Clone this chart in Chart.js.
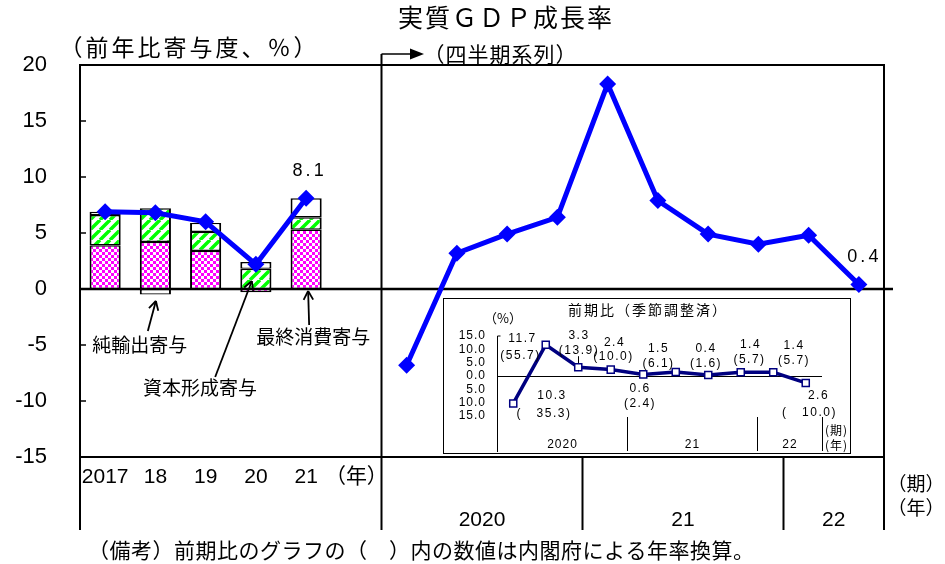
<!DOCTYPE html>
<html lang="ja">
<head>
<meta charset="utf-8">
<title>実質GDP成長率</title>
<script src="https://cdn.jsdelivr.net/npm/chart.js@4.4.1/dist/chart.umd.min.js"></script>
<style>
  html, body { margin: 0; padding: 0; background: #fff; }
  #wrap { position: relative; width: 945px; height: 564px; }
  #mainChart { position: absolute; left: 0; top: 0; }
  #insetChart { position: absolute; left: 443px; top: 298px; background: #fff; }
</style>
</head>
<body>
<div id="wrap">
  <canvas id="mainChart" width="945" height="564"></canvas>
  <canvas id="insetChart" width="408" height="156"></canvas>
</div>
<script>
// --- annual series (y/y, contributions) ---
const annualYears = ['2017', '18', '19', '20', '21'];
const annualGrowth = [6.9, 6.8, 6.0, 2.2, 8.1];
const consumptionContrib = [3.9, 4.2, 3.4, -0.3, 5.3];
const capitalContrib = [2.7, 3.0, 1.7, 1.8, 1.1];
const netExportContrib = [0.3, -0.5, 0.8, 0.6, 1.7];

// --- quarterly series (y/y) ---
const quarters = ['2020Q1', '2020Q2', '2020Q3', '2020Q4', '2021Q1', '2021Q2', '2021Q3', '2021Q4', '2022Q1', '2022Q2'];
const quarterlyGrowth = [-6.8, 3.2, 4.9, 6.4, 18.3, 7.9, 4.9, 4.0, 4.8, 0.4];
const quarterYears = ['2020', '21', '22'];
const quartersInYear = [4, 4, 2];

// --- inset: q/q seasonally adjusted, and annualised rate ---
const qoqGrowth = [-10.3, 11.7, 3.3, 2.4, 0.6, 1.5, 0.4, 1.4, 1.4, -2.6];
const qoqAnnualised = [-35.3, 55.7, 13.9, 10.0, 2.4, 6.1, 1.6, 5.7, 5.7, -10.0];

const yTicks = [20, 15, 10, 5, 0, -5, -10, -15];
const insetTicks = [15, 10, 5, 0, -5, -10, -15];

const BLACK = '#000';
const jp = "'Noto Sans CJK JP', sans-serif";
const num = "'Liberation Sans', Arial, 'Noto Sans CJK JP', sans-serif";

// one category axis: 5 years, a spare slot for "(年)", then the quarters
const categories = [...annualYears, '（年）', ...quarters];
const padAnnual = (arr) => [...arr, null, ...quarters.map(() => null)];
const lineData = [...annualGrowth, null, ...quarterlyGrowth];

function text(ctx, str, x, y, font, opts = {}) {
  const sp = opts.spacing || 0;
  ctx.save();
  ctx.font = font;
  ctx.fillStyle = opts.color || BLACK;
  ctx.textAlign = opts.align || 'center';
  ctx.textBaseline = 'middle';
  ctx.letterSpacing = sp + 'px';
  ctx.fillText(str, ctx.textAlign === 'center' ? x + sp / 2 : x, y);
  ctx.restore();
}

function line(ctx, x1, y1, x2, y2) {
  ctx.beginPath();
  ctx.moveTo(x1, y1);
  ctx.lineTo(x2, y2);
  ctx.stroke();
}

function arrow(ctx, x1, y1, x2, y2) {
  line(ctx, x1, y1, x2, y2);
  const ang = Math.atan2(y2 - y1, x2 - x1);
  const len = 10;
  [-0.5, 0.5].forEach((d) => {
    line(ctx, x2, y2, x2 - len * Math.cos(ang + d), y2 - len * Math.sin(ang + d));
  });
}

// fill patterns for the bars
function checkerPattern(ctx) {
  const c = document.createElement('canvas');
  c.width = 6; c.height = 6;
  const g = c.getContext('2d');
  g.fillStyle = '#fff'; g.fillRect(0, 0, 6, 6);
  g.fillStyle = '#ff00ff';
  g.fillRect(0, 0, 3, 3);
  g.fillRect(3, 3, 3, 3);
  return ctx.createPattern(c, 'repeat');
}

function hatchPattern(ctx) {
  const c = document.createElement('canvas');
  c.width = 10; c.height = 10;
  const g = c.getContext('2d');
  g.fillStyle = '#fff'; g.fillRect(0, 0, 10, 10);
  g.strokeStyle = '#00ff00';
  g.lineWidth = 3.5;
  g.beginPath();
  [-10, 0, 10].forEach((o) => { g.moveTo(o, 10); g.lineTo(o + 10, 0); });
  g.stroke();
  return ctx.createPattern(c, 'repeat');
}

// callouts for the bar components, in (category index, value) coordinates
const callouts = [
  { text: '純輸出寄与', at: [0.69, -5.0], tail: [0.85, -3.75], tip: [1.01, -1.07] },
  { text: '資本形成寄与', at: [1.89, -8.84], tail: [2.19, -7.86], tip: [2.92, 0.71] },
  { text: '最終消費寄与', at: [4.14, -4.29], tail: [4.06, -3.21], tip: [4.04, -0.18] },
];

const mainDecor = {
  id: 'mainDecor',
  beforeDatasetsDraw(chart) {
    const { ctx, chartArea: a, scales: { x, y } } = chart;
    const half = (x.getPixelForValue(1) - x.getPixelForValue(0)) / 2;
    const edge = (i) => x.getPixelForValue(i) - half;
    ctx.save();
    ctx.strokeStyle = BLACK;
    ctx.lineWidth = 2;
    ctx.strokeRect(a.left, a.top, a.right - a.left, a.bottom - a.top);
    const y0 = y.getPixelForValue(0);
    ctx.lineWidth = 2.5;
    line(ctx, a.left, y0, a.right + 9, y0);

    // inward tick marks on the left axis
    ctx.lineWidth = 1.5;
    y.ticks.forEach((t) => {
      const py = y.getPixelForValue(t.value);
      if (t.value !== 0 && py > a.top + 2 && py < a.bottom - 2) line(ctx, a.left, py, a.left + 6, py);
    });

    // annual | quarterly divider and bottom-axis year separators
    ctx.lineWidth = 2;
    line(ctx, edge(annualYears.length + 1), 54, edge(annualYears.length + 1), 530);
    let k = annualYears.length + 1;
    const seps = [edge(0), a.right];
    quartersInYear.forEach((n) => { k += n; seps.push(edge(k)); });
    seps.forEach((sx) => line(ctx, sx, a.bottom, sx, 530));
    ctx.restore();
  },
  afterDraw(chart) {
    const { ctx, chartArea: a, scales: { x, y } } = chart;
    const half = (x.getPixelForValue(1) - x.getPixelForValue(0)) / 2;
    const edge = (i) => x.getPixelForValue(i) - half;

    text(ctx, '実質ＧＤＰ成長率', 505, 17, `25px ${jp}`, { spacing: 2 });
    text(ctx, '（前年比寄与度、％）', 188, 47, `23px ${jp}`, { spacing: 3 });

    // "(四半期系列)" pointer
    const dx = edge(annualYears.length + 1);
    ctx.save();
    ctx.strokeStyle = BLACK;
    ctx.fillStyle = BLACK;
    ctx.lineWidth = 1.5;
    line(ctx, dx, 54, 413, 54);
    ctx.beginPath();
    ctx.moveTo(424, 54); ctx.lineTo(410, 48.5); ctx.lineTo(410, 59.5); ctx.closePath();
    ctx.fill();
    ctx.restore();
    text(ctx, '（四半期系列）', 500, 54, `21px ${jp}`, { spacing: 1 });

    // value labels on the line
    const lastIdx = lineData.length - 1;
    [[annualYears.length - 1, 2], [lastIdx, 4]].forEach(([i, off]) => {
      text(ctx, lineData[i].toFixed(1), x.getPixelForValue(i) + off, y.getPixelForValue(lineData[i]) - 27,
        `18px ${num}`, { spacing: 3 });
    });

    // quarterly year labels under the axis
    let k = annualYears.length + 1;
    quarterYears.forEach((yr, j) => {
      const cx = (edge(k) + edge(k + quartersInYear[j])) / 2;
      text(ctx, yr, cx, 520, `21px ${num}`);
      k += quartersInYear[j];
    });
    text(ctx, '（期）', 916, 484, `19px ${jp}`);
    text(ctx, '（年）', 916, 508, `19px ${jp}`);

    // callouts
    ctx.save();
    ctx.strokeStyle = BLACK;
    ctx.lineWidth = 1.8;
    callouts.forEach((c) => {
      arrow(ctx, x.getPixelForValue(c.tail[0]), y.getPixelForValue(c.tail[1]),
        x.getPixelForValue(c.tip[0]), y.getPixelForValue(c.tip[1]));
    });
    ctx.restore();
    callouts.forEach((c) => {
      text(ctx, c.text, x.getPixelForValue(c.at[0]), y.getPixelForValue(c.at[1]), `19px ${jp}`);
    });

    text(ctx, '（備考）前期比のグラフの（　）内の数値は内閣府による年率換算。', 88, 550, `21px ${jp}`,
      { align: 'left', spacing: 0.5 });
  },
};

const mainCtx = document.getElementById('mainChart').getContext('2d');
const barCommon = {
  borderColor: BLACK,
  borderWidth: { left: 2, right: 2, top: 1.4, bottom: 1.4 },
  borderSkipped: false,
  barPercentage: 0.62,
  categoryPercentage: 1.0,
  stack: 'components',
  order: 1,
};

new Chart(mainCtx, {
  type: 'bar',
  data: {
    labels: categories,
    datasets: [
      {
        type: 'line',
        label: '実質GDP成長率',
        data: lineData,
        borderColor: '#0000ff',
        borderWidth: 5,
        pointStyle: 'rectRot',
        pointRadius: 8.5,
        pointBackgroundColor: '#0000ff',
        pointBorderWidth: 0,
        spanGaps: false,
        stack: 'growth',
        order: 0,
      },
      { ...barCommon, label: '最終消費寄与', data: padAnnual(consumptionContrib), backgroundColor: checkerPattern(mainCtx) },
      { ...barCommon, label: '資本形成寄与', data: padAnnual(capitalContrib), backgroundColor: hatchPattern(mainCtx) },
      { ...barCommon, label: '純輸出寄与', data: padAnnual(netExportContrib), backgroundColor: '#fff' },
    ],
  },
  options: {
    responsive: false,
    devicePixelRatio: 1,
    animation: false,
    layout: { padding: { top: 65, right: 61, left: 0, bottom: 0 } },
    plugins: { legend: { display: false }, tooltip: { enabled: false } },
    scales: {
      x: {
        stacked: true,
        offset: true,
        grid: { display: false, drawTicks: false },
        border: { display: false },
        ticks: {
          autoSkip: false,
          maxRotation: 0,
          padding: 8,
          color: BLACK,
          font: { family: num, size: 21 },
          callback: (v, i) => (i <= annualYears.length ? categories[i] : ''),
        },
        afterFit: (s) => { s.height = 107; },
      },
      y: {
        stacked: true,
        min: Math.min(...yTicks),
        max: Math.max(...yTicks),
        ticks: {
          stepSize: yTicks[0] - yTicks[1],
          autoSkip: false,
          padding: 33,
          color: BLACK,
          font: { family: num, size: 22 },
        },
        grid: { display: false, drawTicks: false },
        border: { display: false },
        afterFit: (s) => { s.width = 80; },
      },
    },
  },
  plugins: [mainDecor],
});

// ---------------- inset chart ----------------
// label offsets from each marker: [dx1, dy1, dx2, dy2]
const insetLabelPos = [
  [38, -8, 30, 10], [-24, -6, -26, 11], [0, -32, 0, -17], [3, -27, 2, -13], [-4, 14, -4, 29],
  [-18, -23, -18, -8], [-3, -26, -3, -11], [9, -28, 8, -13], [20, -27, 20, -12], [12, 13, 3, 30],
];

const insetDecor = {
  id: 'insetDecor',
  beforeDraw(chart) {
    chart.ctx.letterSpacing = '1px';
  },
  beforeDatasetsDraw(chart) {
    const { ctx, chartArea: a, scales: { x, y } } = chart;
    const half = (x.getPixelForValue(1) - x.getPixelForValue(0)) / 2;
    const edge = (i) => x.getPixelForValue(i) - half;
    ctx.save();
    ctx.strokeStyle = BLACK;
    ctx.lineWidth = 1;
    const y0 = Math.round(y.getPixelForValue(0)) + 0.5;
    line(ctx, a.left, y0, a.right, y0);
    const lx = Math.round(a.left) + 0.5;
    line(ctx, lx, a.top, lx, 154);
    line(ctx, lx, a.top, lx + 3, a.top);
    let k = 0;
    quartersInYear.forEach((n) => {
      k += n;
      const sx = Math.round(edge(k)) + 0.5;
      line(ctx, sx, a.bottom + 1, sx, 153);
    });
    ctx.restore();
  },
  afterDraw(chart) {
    const { ctx, chartArea: a, scales: { x, y } } = chart;
    const half = (x.getPixelForValue(1) - x.getPixelForValue(0)) / 2;
    const edge = (i) => x.getPixelForValue(i) - half;
    ctx.save();
    ctx.letterSpacing = '0px';
    ctx.strokeStyle = BLACK;
    ctx.lineWidth = 1;
    ctx.strokeRect(0.5, 0.5, chart.width - 1, chart.height - 1);
    ctx.restore();

    text(ctx, '前期比（季節調整済）', 204, 12, `14px ${jp}`, { spacing: 2 });
    text(ctx, '（%）', 60, 20, `13px ${jp}`);

    const lf = `12px ${num}`;
    qoqGrowth.forEach((v, i) => {
      const px = x.getPixelForValue(i);
      const py = y.getPixelForValue(v);
      const [dx1, dy1, dx2, dy2] = insetLabelPos[i];
      const a2 = qoqAnnualised[i];
      const l1 = Math.abs(v).toFixed(1);
      const l2 = a2 < 0 ? `(   ${Math.abs(a2).toFixed(1)})` : `(${a2.toFixed(1)})`;
      text(ctx, l1, px + dx1, py + dy1, lf, { spacing: 1.5 });
      text(ctx, l2, px + dx2, py + dy2, lf, { spacing: 1.5 });
    });
    // leader from the Q3 label to its marker
    ctx.save();
    ctx.strokeStyle = BLACK;
    ctx.lineWidth = 1;
    const p2x = Math.round(x.getPixelForValue(2)) + 0.5;
    const p2y = y.getPixelForValue(qoqGrowth[2]);
    line(ctx, p2x, p2y - 11, p2x, p2y - 4);
    ctx.restore();

    let k = 0;
    quarterYears.forEach((yr, j) => {
      const cx = (edge(k) + edge(k + quartersInYear[j])) / 2;
      text(ctx, yr, cx, 147, lf, { spacing: 1 });
      k += quartersInYear[j];
    });
    text(ctx, '(期)', a.right + 14, 132, `12px ${jp}`, { spacing: 1 });
    text(ctx, '(年)', a.right + 14, 147, `12px ${jp}`, { spacing: 1 });
  },
};

new Chart(document.getElementById('insetChart').getContext('2d'), {
  type: 'line',
  data: {
    labels: quarters,
    datasets: [{
      label: '前期比',
      data: qoqGrowth,
      borderColor: '#000080',
      borderWidth: 3.5,
      pointStyle: 'rect',
      pointRadius: 5,
      pointBackgroundColor: '#fff',
      pointBorderColor: '#000080',
      pointBorderWidth: 1.5,
    }],
  },
  options: {
    responsive: false,
    devicePixelRatio: 1,
    animation: false,
    layout: { padding: { top: 38, right: 29, left: 0, bottom: 0 } },
    plugins: { legend: { display: false }, tooltip: { enabled: false } },
    scales: {
      x: {
        offset: true,
        grid: { display: false, drawTicks: false },
        border: { display: false },
        ticks: { display: false },
        afterFit: (s) => { s.height = 38; },
      },
      y: {
        min: Math.min(...insetTicks),
        max: Math.max(...insetTicks),
        ticks: {
          stepSize: insetTicks[0] - insetTicks[1],
          autoSkip: false,
          padding: 11,
          color: BLACK,
          font: { family: num, size: 12 },
          callback: (v) => Math.abs(v).toFixed(1),
        },
        grid: { display: false, drawTicks: false },
        border: { display: false },
        afterFit: (s) => { s.width = 54; },
      },
    },
  },
  plugins: [insetDecor],
});
</script>
</body>
</html>
